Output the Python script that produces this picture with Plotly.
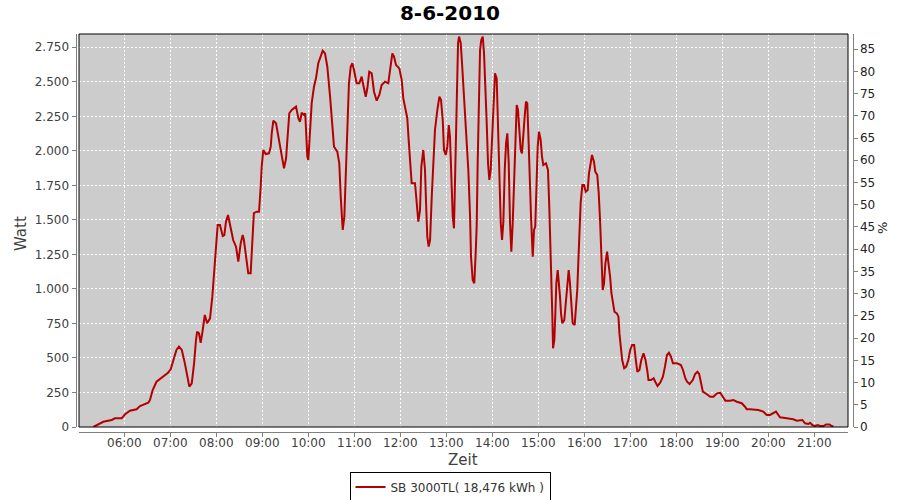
import pandas as pd
import plotly.graph_objects as go

title_text = "8-6-2010"
series_name = "SB 3000TL( 18,476 kWh )"
x_title = "Zeit"
y_title = "Watt"
y2_title = "%"
day = "2010-06-08"
start_clock = "05:00"

# minutes after 05:00 and measured power (W)
minutes_after_start = [
    19.6, 32.6, 43.5, 47.9, 56.6, 61, 67.4, 76, 80.5, 91.3, 93.5, 97, 102, 111, 117, 120.5,
    124, 128, 131.3, 135, 139, 142, 144.8, 148, 151, 153.5, 155, 157.4, 159.6, 162, 165, 168,
    171.8, 174.8, 177.4, 179.6, 181.8, 184.8, 188.4, 190.5, 192.6, 195.3, 198.7, 202, 205.7, 208.7,
    211.8, 214.4, 216, 218.7, 221.7, 224.8, 227, 229, 232.7, 235.7, 237.9, 239.2, 241.3, 244.4,
    248.7, 251, 252.3, 254.4, 257.9, 260.9, 264, 266.6, 268.3, 271, 272.6, 275.2, 278.4, 282.7,
    284, 287, 289.2, 291.4, 294.4, 296, 297.1, 298.7, 300, 302.2, 304.4, 307.4, 310, 313, 316.2,
    318.8, 321.8, 324.8, 328.4, 331.8, 333.5, 337.8, 340.4, 342.3, 344.9, 347, 349.2, 351.4, 353,
    355.3, 357.4, 359.6, 363, 366.5, 369.6, 371.7, 374.9, 377, 379.5, 382.7, 385.7, 389.2, 392.6,
    395.7, 400, 404.3, 406.6, 409.6, 411.8, 414.4, 418.7, 421.8, 423.9, 426.1, 429.1, 430.9, 432.6,
    434.8, 439.2, 441.4, 443.5, 445.7, 447.4, 450, 452.2, 453.6, 455.2, 457, 458.8, 461, 463,
    465.2, 468.3, 471, 473.1, 475.3, 477, 479.3, 481.3, 483.2, 484.8, 486.5, 488.4, 490, 491.7,
    493.5, 495.3, 496.6, 498.8, 500.5, 503, 504.8, 506.6, 508.7, 511, 512.2, 514.4, 516.5, 518.3,
    519.6, 520.9, 522.2, 524, 525.6, 527.5, 529.2, 530.9, 532.7, 534.4, 536.1, 537.9, 539.6, 541.3,
    543.5, 545.7, 547, 549.1, 551, 552.7, 554.4, 556.2, 557.9, 559.6, 561.4, 563.1, 564.8, 566.6,
    568.3, 570, 571.8, 573.5, 575.2, 577, 578.7, 580.4, 582.2, 583.9, 585.6, 587.4, 589.2, 590.5,
    592.7, 594.4, 596, 597.9, 599.2, 600.9, 603.1, 604.8, 606.5, 610, 612.6, 614.3, 616.1, 617,
    618.2, 619.2, 620.9, 622.2, 623.5, 625.3, 627, 628.3, 629.6, 631.3, 633.9, 636.1, 637.8, 639.6,
    641.3, 643, 644.8, 647.4, 649.1, 650.8, 652.1, 653.4, 655.2, 657.4, 659.6, 661.8, 664.4, 666.1,
    668.3, 670, 672.6, 674.3, 676.9, 678.8, 680.5, 681.8, 682.7, 684, 685.7, 687.5, 689.7, 691.9,
    693.6, 695.4, 697.2, 699.3, 702.4, 704.5, 705.8, 707.6, 709.4, 712, 714.6, 717.4, 719.8, 722.4,
    725, 727.2, 729.2, 731.9, 734.3, 737.2, 739.8, 742, 743.7, 746.9, 750.4, 752.5, 755.5, 759,
    762.5, 765.2, 767.8, 770.4, 773, 775.6, 780.8, 786, 788.7, 791.7, 794, 797.2, 801.5, 804.5,
    807.5, 809.8, 812, 814.6, 819.8, 824.2, 828.5, 832.9, 837.2, 840.5, 844, 850.1, 854.4, 858.8,
    865.3, 869.6, 871.8, 876.1, 880.4, 887, 893.5, 897.9, 902.2, 906.5, 910, 913.1, 915.2, 919.6,
    924, 928.3, 932.6, 937, 941.4, 944.4, 947.9, 952.2, 954.4, 957.4, 961, 964.5, 967.5, 971.8,
    975.3, 979.6, 982.8, 984.9,
]
watts = [
    0, 38, 51, 63, 63, 92, 118, 128, 152, 176, 196, 268, 328, 364, 393, 418,
    485, 558, 582, 558, 461, 364, 292, 316, 461, 630, 690, 678, 610, 690, 811, 751,
    787, 944, 1137, 1306, 1463, 1463, 1383, 1390, 1487, 1535, 1451, 1354, 1306, 1197,
    1330, 1390, 1354, 1233, 1113, 1113, 1306, 1548, 1559, 1559, 1740, 1885, 2006, 1977,
    1982, 2030, 2127, 2218, 2199, 2102, 2006, 1921, 1873, 1946, 2102, 2272, 2296, 2315,
    2320, 2236, 2211, 2276, 2260, 2272, 2102, 1958, 1934, 2151, 2344, 2464, 2525, 2634, 2694,
    2725, 2706, 2609, 2392, 2102, 2030, 1994, 1910, 1668, 1427, 1523, 1861, 2199, 2489,
    2609, 2634, 2585, 2489, 2489, 2537, 2477, 2392, 2453, 2573, 2561, 2428, 2363, 2404,
    2477, 2501, 2489, 2585, 2706, 2682, 2622, 2597, 2513, 2380, 2308, 2236, 2078, 1910,
    1765, 1765, 1644, 1487, 1571, 1885, 2006, 1861, 1620, 1378, 1306, 1354, 1668, 1910,
    2151, 2296, 2392, 2368, 2223, 2006, 1970, 2030, 2187, 2102, 1740, 1523, 1439, 1885,
    2464, 2779, 2827, 2779, 2634, 2417, 2247, 2102, 1861, 1523, 1233, 1065, 1041, 1258,
    1451, 1910, 2392, 2730, 2803, 2827, 2706, 2368, 2199, 1910, 1789, 1861, 2078, 2392,
    2561, 2525, 2247, 1837, 1475, 1354, 1487, 1861, 2054, 2127, 1910, 1475, 1270, 1475,
    1789, 2175, 2332, 2296, 2151, 2006, 1982, 2151, 2247, 2356, 2344, 2054, 1692, 1523,
    1233, 1427, 1451, 1837, 2030, 2139, 2078, 1958, 1897, 1910, 1861, 1596, 1306, 1065,
    823, 570, 630, 823, 1041, 1137, 1041, 944, 823, 751, 775, 896, 1041, 1137,
    1041, 920, 751, 739, 847, 992, 1185, 1451, 1620, 1753, 1753, 1704, 1716, 1837,
    1934, 1970, 1921, 1849, 1825, 1692, 1499, 1306, 1065, 992, 1041, 1185, 1270, 1185,
    1089, 968, 896, 835, 823, 799, 678, 558, 485, 425, 437, 485, 558, 594,
    594, 485, 400, 413, 485, 534, 485, 413, 340, 340, 353, 328, 297, 321,
    364, 437, 521, 538, 509, 461, 461, 449, 413, 353, 328, 311, 340, 384,
    400, 384, 316, 256, 237, 219, 219, 244, 248, 224, 191, 191, 196, 183,
    172, 147, 128, 128, 128, 123, 111, 87, 87, 99, 111, 87, 70, 67,
    63, 56, 56, 46, 46, 51, 27, 22, 31, 14, 7, 14, 7, 7,
    19, 19, 7, 2,
]

x_range = [f"{day} 05:00:55", f"{day} 21:43:55"]
watt_range = [0, 2846]
watt_step = 250
percent_range = [0, 88.4]
percent_step = 5

base = pd.Timestamp(f"{day} {start_clock}")
times = base + pd.to_timedelta(minutes_after_start, unit="m")

FONT = "DejaVu Sans"
TICK_COLOR = "#404040"
AXIS_GRAY = "#808080"
W, H = 900, 500

xd = [79 / W, 848 / W]
yd = [(H - 427) / H, (H - 34) / H]

fig = go.Figure()
fig.add_trace(go.Scatter(
    x=times, y=watts, mode="lines", name=series_name,
    line=dict(color="#b40000", width=2),
))
fig.add_trace(go.Scatter(
    x=[times[0], times[-1]], y=[0, 0], yaxis="y2", mode="lines",
    line=dict(width=0, color="rgba(0,0,0,0)"), showlegend=False, hoverinfo="skip",
))

fig.update_layout(
    width=W, height=H,
    margin=dict(l=0, r=0, t=0, b=0, pad=0, autoexpand=False),
    paper_bgcolor="white",
    plot_bgcolor="#cccccc",
    separators=",.",
    font=dict(family=FONT, size=12, color=TICK_COLOR),
    title=dict(text=f"<b>{title_text}</b>", x=0.5, xanchor="center", xref="paper",
               y=1 - 13 / H, yanchor="middle", yref="paper",
               font=dict(family=FONT, size=20, color="black")),
    xaxis=dict(
        domain=xd, anchor="free", position=(H - 431.5) / H,
        type="date", range=x_range,
        tick0=f"{day} 06:00", dtick=3600000, tickformat="%H:%M",
        showline=True, linecolor=AXIS_GRAY, linewidth=1,
        ticks="outside", ticklen=4, tickcolor=AXIS_GRAY, ticklabelstandoff=-4,
        showgrid=True, gridcolor="white", griddash="2px,2px", gridwidth=1,
        zeroline=False, tickfont=dict(size=12, color=TICK_COLOR), automargin=False,
    ),
    yaxis=dict(
        domain=yd, anchor="free", position=75.5 / W,
        range=watt_range, tick0=0, dtick=watt_step, tickformat=",d",
        showline=True, linecolor=AXIS_GRAY, linewidth=1,
        ticks="outside", ticklen=4, tickcolor=AXIS_GRAY,
        showgrid=True, gridcolor="white", griddash="2px,2px", gridwidth=1,
        zeroline=False, tickfont=dict(size=12, color=TICK_COLOR), automargin=False,
    ),
    yaxis2=dict(
        overlaying="y", side="right", anchor="free", position=852.5 / W,
        range=percent_range, tick0=0, dtick=percent_step,
        showline=True, linecolor=AXIS_GRAY, linewidth=1,
        ticks="outside", ticklen=4, tickcolor=AXIS_GRAY,
        showgrid=False, zeroline=False, automargin=False,
        tickfont=dict(size=12, color="#222222"),
    ),
    legend=dict(
        orientation="h", x=0.5, xanchor="center", xref="paper",
        y=(H - 487) / H, yanchor="middle", yref="paper",
        bordercolor="black", borderwidth=1, bgcolor="white",
        font=dict(family=FONT, size=12, color="#333333"), itemwidth=30,
    ),
    showlegend=True,
    shapes=[dict(type="rect", xref="paper", yref="paper",
                 x0=xd[0], x1=xd[1], y0=yd[0], y1=yd[1],
                 line=dict(color="black", width=1), layer="above")],
    annotations=[
        dict(text=x_title, xref="paper", yref="paper", x=463 / W, y=(H - 460) / H,
             showarrow=False, font=dict(family=FONT, size=15, color=TICK_COLOR),
             xanchor="center", yanchor="middle"),
        dict(text=y_title, xref="paper", yref="paper", x=21 / W, y=(H - 234) / H,
             showarrow=False, textangle=-90, font=dict(family=FONT, size=15, color=TICK_COLOR),
             xanchor="center", yanchor="middle"),
        dict(text=y2_title, xref="paper", yref="paper", x=883 / W, y=(H - 228) / H,
             showarrow=False, textangle=-90, font=dict(family=FONT, size=13, color="#222222"),
             xanchor="center", yanchor="middle"),
    ],
)

fig.write_html(
    "out.html",
    config={"displayModeBar": False},
    post_script="document.body.style.margin='0';document.body.style.overflow='hidden';",
)
